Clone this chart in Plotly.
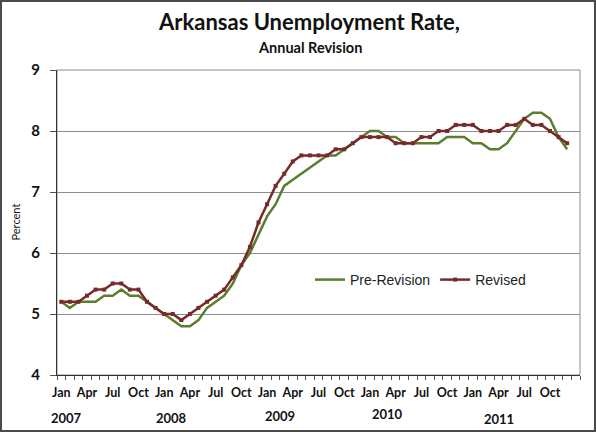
import plotly.graph_objects as go

years = [2007, 2008, 2009, 2010, 2011]
month_names = ["Jan", "Feb", "Mar", "Apr", "May", "Jun",
               "Jul", "Aug", "Sep", "Oct", "Nov", "Dec"]
labelled_months = ["Jan", "Apr", "Jul", "Oct"]

pre_revision = [
    5.2, 5.1, 5.2, 5.2, 5.2, 5.3, 5.3, 5.4, 5.3, 5.3, 5.2, 5.1,   # 2007
    5.0, 4.9, 4.8, 4.8, 4.9, 5.1, 5.2, 5.3, 5.5, 5.8, 6.0, 6.3,   # 2008
    6.6, 6.8, 7.1, 7.2, 7.3, 7.4, 7.5, 7.6, 7.6, 7.7, 7.8, 7.9,   # 2009
    8.0, 8.0, 7.9, 7.9, 7.8, 7.8, 7.8, 7.8, 7.8, 7.9, 7.9, 7.9,   # 2010
    7.8, 7.8, 7.7, 7.7, 7.8, 8.0, 8.2, 8.3, 8.3, 8.2, 7.9, 7.7,   # 2011
]
revised = [
    5.2, 5.2, 5.2, 5.3, 5.4, 5.4, 5.5, 5.5, 5.4, 5.4, 5.2, 5.1,   # 2007
    5.0, 5.0, 4.9, 5.0, 5.1, 5.2, 5.3, 5.4, 5.6, 5.8, 6.1, 6.5,   # 2008
    6.8, 7.1, 7.3, 7.5, 7.6, 7.6, 7.6, 7.6, 7.7, 7.7, 7.8, 7.9,   # 2009
    7.9, 7.9, 7.9, 7.8, 7.8, 7.8, 7.9, 7.9, 8.0, 8.0, 8.1, 8.1,   # 2010
    8.1, 8.0, 8.0, 8.0, 8.1, 8.1, 8.2, 8.1, 8.1, 8.0, 7.9, 7.8,   # 2011
]

# year label positions (fractional month index) and vertical pixel position
year_label_pos = [0.6, 12.8, 25.5, 38.0, 51.1]
year_label_px = [418, 418, 416, 414, 419]

month_seq = [m for y in years for m in month_names]
x_idx = list(range(len(month_seq)))
tick_vals = [i for i, m in enumerate(month_seq) if m in labelled_months]
tick_text = [month_seq[i] for i in tick_vals]

W, H = 596, 432
ML, MR, MT, MB = 57, 16, 70, 57
PW, PH = W - ML - MR, H - MT - MB

GREEN = "#5b7d2c"
RED = "#782a2a"
FONT = "Lato"

fig = go.Figure()
fig.add_trace(go.Scatter(
    x=x_idx, y=pre_revision, name="Pre-Revision", mode="lines",
    line=dict(color=GREEN, width=2.5),
))
fig.add_trace(go.Scatter(
    x=x_idx, y=revised, name="Revised", mode="lines+markers",
    line=dict(color=RED, width=2.5),
    marker=dict(symbol="square", size=4, color=RED),
))

annotations = [
    dict(text="<b>Arkansas Unemployment Rate,</b>", x=(309 - ML) / PW, y=1 + (MT - 22) / PH,
         xref="paper", yref="paper", showarrow=False, xanchor="center", yanchor="middle",
         font=dict(family=FONT, size=22, color="#111111")),
    dict(text="<b>Annual Revision</b>", x=(310 - ML) / PW, y=1 + (MT - 47) / PH,
         xref="paper", yref="paper", showarrow=False, xanchor="center", yanchor="middle",
         font=dict(family=FONT, size=14.5, color="#111111")),
    dict(text="Percent", x=(15 - ML) / PW, y=0.5, textangle=-90,
         xref="paper", yref="paper", showarrow=False, xanchor="center", yanchor="middle",
         font=dict(family=FONT, size=11, color="#111111")),
]
for yr, xp, ypx in zip(years, year_label_pos, year_label_px):
    annotations.append(dict(
        text=f"<b>{yr}</b>", x=xp, y=(MT + PH - ypx) / PH, xref="x", yref="paper",
        showarrow=False, xanchor="center", yanchor="middle",
        font=dict(family=FONT, size=13, color="#111111")))

shapes = [
    # plot area frame
    dict(type="rect", xref="paper", yref="paper", x0=0, x1=1, y0=0, y1=1,
         line=dict(color="#8c8c8c", width=1), layer="below"),
    # outer chart border
    dict(type="rect", xref="paper", yref="paper",
         x0=(-ML + 1) / PW, x1=1 + (MR - 1) / PW,
         y0=(-MB + 1) / PH, y1=1 + (MT - 1) / PH,
         line=dict(color="#4a4a4a", width=2)),
]

fig.update_layout(
    width=W, height=H,
    margin=dict(l=ML, r=MR, t=MT, b=MB),
    paper_bgcolor="white", plot_bgcolor="white",
    showlegend=True,
    legend=dict(orientation="h", x=(310 - ML) / PW, y=(MT + PH - 280) / PH,
                xanchor="left", yanchor="middle", bgcolor="rgba(0,0,0,0)",
                font=dict(family="Liberation Sans", size=14, color="#222222"),
                itemwidth=30, tracegroupgap=0),
    annotations=annotations,
    shapes=shapes,
    xaxis=dict(
        range=[-0.5, len(month_seq) + 0.5],
        tickmode="array", tickvals=tick_vals, ticktext=tick_text,
        ticks="", showgrid=False, zeroline=False,
        showline=True, linecolor="#333333", linewidth=1,
        tickfont=dict(family=FONT, size=12.5, color="#111111", weight="bold"),
        minor=dict(tick0=-0.5, dtick=1, ticks="outside", ticklen=4,
                   tickcolor="#555555", showgrid=False),
        ticklabelstandoff=6,
    ),
    yaxis=dict(
        range=[4, 9], dtick=1, tick0=4,
        showgrid=True, gridcolor="#8c8c8c", gridwidth=1, zeroline=False,
        showline=True, linecolor="#333333", linewidth=1,
        ticks="outside", ticklen=6, tickcolor="#555555",
        tickfont=dict(family=FONT, size=15, color="#111111", weight="bold"),
        ticklabelstandoff=7,
    ),
)

fig.write_html("out.html", config={"displayModeBar": False},
               post_script="document.body.style.margin='0';document.body.style.padding='0';")
